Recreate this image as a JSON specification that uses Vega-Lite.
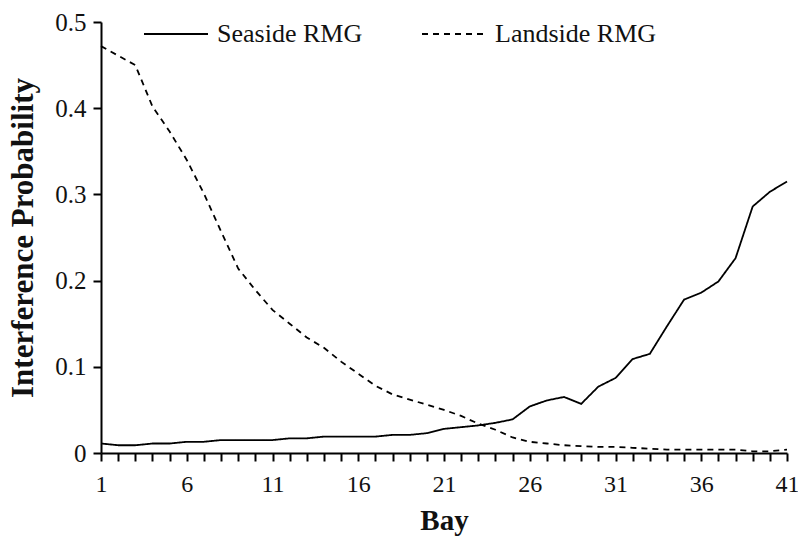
{
  "$schema": "https://vega.github.io/schema/vega-lite/v6.json",
  "autosize": "none",
  "width": 686,
  "height": 431,
  "padding": {"left": 101, "top": 22, "right": 11, "bottom": 84},
  "background": "white",
  "config": {
    "view": {"stroke": null},
    "font": "Liberation Serif",
    "axis": {"grid": false, "domainColor": "black", "domainWidth": 2, "tickColor": "black", "tickWidth": 2, "labelColor": "#111", "titleColor": "#111", "labelFont": "Liberation Serif", "titleFont": "Liberation Serif"},
    "legend": {"labelFont": "Liberation Serif"}
  },
  "data": {
    "values": [
      {"bay": 1, "series": "Seaside RMG", "p": 0.011},
      {"bay": 2, "series": "Seaside RMG", "p": 0.009},
      {"bay": 3, "series": "Seaside RMG", "p": 0.009},
      {"bay": 4, "series": "Seaside RMG", "p": 0.011},
      {"bay": 5, "series": "Seaside RMG", "p": 0.011},
      {"bay": 6, "series": "Seaside RMG", "p": 0.013},
      {"bay": 7, "series": "Seaside RMG", "p": 0.013},
      {"bay": 8, "series": "Seaside RMG", "p": 0.015},
      {"bay": 9, "series": "Seaside RMG", "p": 0.015},
      {"bay": 10, "series": "Seaside RMG", "p": 0.015},
      {"bay": 11, "series": "Seaside RMG", "p": 0.015},
      {"bay": 12, "series": "Seaside RMG", "p": 0.017},
      {"bay": 13, "series": "Seaside RMG", "p": 0.017},
      {"bay": 14, "series": "Seaside RMG", "p": 0.019},
      {"bay": 15, "series": "Seaside RMG", "p": 0.019},
      {"bay": 16, "series": "Seaside RMG", "p": 0.019},
      {"bay": 17, "series": "Seaside RMG", "p": 0.019},
      {"bay": 18, "series": "Seaside RMG", "p": 0.021},
      {"bay": 19, "series": "Seaside RMG", "p": 0.021},
      {"bay": 20, "series": "Seaside RMG", "p": 0.023},
      {"bay": 21, "series": "Seaside RMG", "p": 0.028},
      {"bay": 22, "series": "Seaside RMG", "p": 0.030},
      {"bay": 23, "series": "Seaside RMG", "p": 0.032},
      {"bay": 24, "series": "Seaside RMG", "p": 0.035},
      {"bay": 25, "series": "Seaside RMG", "p": 0.039},
      {"bay": 26, "series": "Seaside RMG", "p": 0.054},
      {"bay": 27, "series": "Seaside RMG", "p": 0.061},
      {"bay": 28, "series": "Seaside RMG", "p": 0.065},
      {"bay": 29, "series": "Seaside RMG", "p": 0.057},
      {"bay": 30, "series": "Seaside RMG", "p": 0.077},
      {"bay": 31, "series": "Seaside RMG", "p": 0.087},
      {"bay": 32, "series": "Seaside RMG", "p": 0.109},
      {"bay": 33, "series": "Seaside RMG", "p": 0.115},
      {"bay": 34, "series": "Seaside RMG", "p": 0.147},
      {"bay": 35, "series": "Seaside RMG", "p": 0.178},
      {"bay": 36, "series": "Seaside RMG", "p": 0.186},
      {"bay": 37, "series": "Seaside RMG", "p": 0.199},
      {"bay": 38, "series": "Seaside RMG", "p": 0.226},
      {"bay": 39, "series": "Seaside RMG", "p": 0.286},
      {"bay": 40, "series": "Seaside RMG", "p": 0.303},
      {"bay": 41, "series": "Seaside RMG", "p": 0.315},
      {"bay": 1, "series": "Landside RMG", "p": 0.472},
      {"bay": 2, "series": "Landside RMG", "p": 0.461},
      {"bay": 3, "series": "Landside RMG", "p": 0.450},
      {"bay": 4, "series": "Landside RMG", "p": 0.402},
      {"bay": 5, "series": "Landside RMG", "p": 0.373},
      {"bay": 6, "series": "Landside RMG", "p": 0.340},
      {"bay": 7, "series": "Landside RMG", "p": 0.301},
      {"bay": 8, "series": "Landside RMG", "p": 0.257},
      {"bay": 9, "series": "Landside RMG", "p": 0.214},
      {"bay": 10, "series": "Landside RMG", "p": 0.189},
      {"bay": 11, "series": "Landside RMG", "p": 0.166},
      {"bay": 12, "series": "Landside RMG", "p": 0.150},
      {"bay": 13, "series": "Landside RMG", "p": 0.134},
      {"bay": 14, "series": "Landside RMG", "p": 0.122},
      {"bay": 15, "series": "Landside RMG", "p": 0.106},
      {"bay": 16, "series": "Landside RMG", "p": 0.092},
      {"bay": 17, "series": "Landside RMG", "p": 0.078},
      {"bay": 18, "series": "Landside RMG", "p": 0.068},
      {"bay": 19, "series": "Landside RMG", "p": 0.062},
      {"bay": 20, "series": "Landside RMG", "p": 0.056},
      {"bay": 21, "series": "Landside RMG", "p": 0.050},
      {"bay": 22, "series": "Landside RMG", "p": 0.043},
      {"bay": 23, "series": "Landside RMG", "p": 0.034},
      {"bay": 24, "series": "Landside RMG", "p": 0.027},
      {"bay": 25, "series": "Landside RMG", "p": 0.018},
      {"bay": 26, "series": "Landside RMG", "p": 0.013},
      {"bay": 27, "series": "Landside RMG", "p": 0.011},
      {"bay": 28, "series": "Landside RMG", "p": 0.009},
      {"bay": 29, "series": "Landside RMG", "p": 0.008},
      {"bay": 30, "series": "Landside RMG", "p": 0.007},
      {"bay": 31, "series": "Landside RMG", "p": 0.007},
      {"bay": 32, "series": "Landside RMG", "p": 0.006},
      {"bay": 33, "series": "Landside RMG", "p": 0.005},
      {"bay": 34, "series": "Landside RMG", "p": 0.004},
      {"bay": 35, "series": "Landside RMG", "p": 0.004},
      {"bay": 36, "series": "Landside RMG", "p": 0.004},
      {"bay": 37, "series": "Landside RMG", "p": 0.004},
      {"bay": 38, "series": "Landside RMG", "p": 0.004},
      {"bay": 39, "series": "Landside RMG", "p": 0.002},
      {"bay": 40, "series": "Landside RMG", "p": 0.002},
      {"bay": 41, "series": "Landside RMG", "p": 0.004}
    ]
  },
  "mark": {"type": "line", "color": "black", "strokeWidth": 1.8},
  "encoding": {
    "x": {
      "field": "bay", "type": "quantitative",
      "scale": {"domain": [1, 41], "nice": false, "zero": false},
      "axis": {
        "title": "Bay", "titleFont": "Liberation Serif", "titleFontSize": 29, "titleFontWeight": "bold", "titlePadding": 10,
        "values": [1,2,3,4,5,6,7,8,9,10,11,12,13,14,15,16,17,18,19,20,21,22,23,24,25,26,27,28,29,30,31,32,33,34,35,36,37,38,39,40,41],
        "labelExpr": "(datum.value - 1) % 5 === 0 ? datum.value : ''",
        "labelFont": "Liberation Serif", "labelFontSize": 24, "tickSize": 8, "labelPadding": 11, "labelFlush": false, "labelOverlap": false
      }
    },
    "y": {
      "field": "p", "type": "quantitative",
      "scale": {"domain": [0, 0.5], "nice": false},
      "axis": {
        "title": "Interference Probability", "titleFont": "Liberation Serif", "titleFontSize": 31, "titleFontWeight": "bold", "titlePadding": 15,
        "values": [0, 0.1, 0.2, 0.3, 0.4, 0.5],
        "labelExpr": "datum.value === 0 ? '0' : format(datum.value, '.1f')",
        "labelFont": "Liberation Serif", "labelFontSize": 25, "tickSize": 8, "labelPadding": 7, "labelFlush": false
      }
    },
    "strokeDash": {
      "field": "series", "type": "nominal",
      "scale": {"domain": ["Seaside RMG", "Landside RMG"], "range": [[1, 0], [6, 5]]},
      "legend": {
        "title": null, "orient": "none", "direction": "horizontal",
        "legendX": 42, "legendY": -21,
        "symbolType": "stroke", "symbolSize": 4096, "symbolStrokeColor": "black", "symbolStrokeWidth": 1.8,
        "labelFontSize": 26, "labelFont": "Liberation Serif", "labelColor": "#111", "labelOffset": 8, "labelLimit": 400, "columnPadding": 55
      }
    }
  }
}
